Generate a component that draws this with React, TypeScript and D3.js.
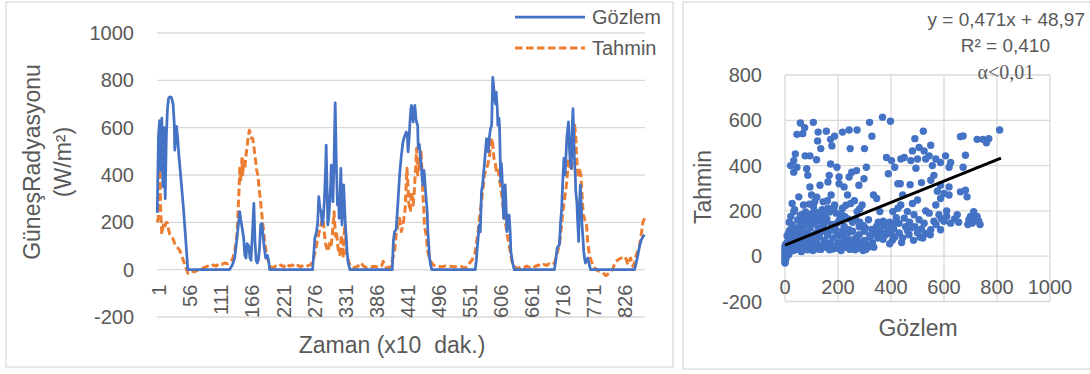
import React from 'react';
import * as d3 from 'd3';

// time series: [index (x10 min), value W/m2]
const gozlem: [number, number][] = [
  [1,240],[3,560],[5,630],[7,420],[9,640],[11,350],[13,600],[15,300],[17,560],[19,680],[21,725],[23,730],[26,728],[29,700],[31,620],[32,505],[34,560],[35,605],[37,560],[39,490],[43,380],[47,270],[51,140],[55,0],
  [129,0],[134,20],[138,49],[142,130],[145,200],[147,245],[149,210],[151,180],[154,133],[156,60],[158,49],[160,110],[163,100],[165,50],[167,40],[170,180],[172,280],[174,120],[176,40],[178,28],[180,40],[182,90],[184,190],[186,195],[188,150],[190,100],[193,49],[196,60],[198,40],[200,0],
  [276,0],[280,133],[283,161],[285,200],[287,309],[289,260],[291,245],[293,190],[295,220],[297,301],[299,430],[300,526],[302,300],[303,189],[305,230],[306,273],[308,360],[309,442],[311,330],[312,287],[313,380],[314,456],[315,600],[316,705],[318,450],[320,273],[322,300],[323,217],[325,350],[326,428],[327,300],[328,189],[329,250],[331,358],[332,300],[334,189],[336,120],[337,77],[339,30],[342,0],
  [417,0],[419,120],[421,160],[424,170],[427,280],[430,400],[433,480],[436,540],[439,565],[442,582],[444,560],[445,498],[447,560],[448,610],[450,680],[451,694],[453,650],[454,624],[456,680],[457,694],[459,640],[460,624],[462,610],[463,512],[465,530],[467,470],[469,420],[471,358],[473,420],[474,400],[476,330],[477,302],[479,240],[480,161],[482,90],[483,49],[485,20],[487,0],
  [564,0],[566,40],[567,77],[569,130],[571,189],[573,160],[575,330],[577,360],[580,442],[582,500],[584,554],[586,520],[587,498],[589,560],[591,596],[593,610],[595,813],[597,760],[598,722],[600,700],[601,750],[603,680],[604,610],[606,640],[607,600],[609,372],[610,450],[611,420],[613,300],[614,217],[616,300],[617,358],[619,240],[620,161],[622,200],[624,231],[626,150],[627,77],[630,30],[633,0],
  [704,0],[706,30],[709,91],[711,100],[713,105],[715,200],[717,259],[719,380],[721,470],[723,400],[725,500],[726,554],[728,600],[729,624],[731,500],[732,460],[734,428],[735,560],[737,680],[738,600],[739,498],[741,400],[742,330],[744,280],[745,217],[747,119],[748,250],[750,358],[752,250],[753,189],[755,120],[756,77],[758,40],[759,28],[761,40],[763,49],[766,20],[768,0],
  [846,0],[849,30],[852,63],[855,100],[858,126],[861,140],[864,147],
];

const tahmin: [number, number][] = [
  [1,200],[3,220],[5,470],[6,380],[7,250],[9,150],[11,180],[13,200],[15,185],[17,200],[19,195],[21,170],[23,150],[26,140],[29,130],[32,110],[35,100],[38,90],[41,80],[44,60],[47,40],[50,20],[53,0],[55,-15],[58,-12],[62,-5],[66,-10],[70,-5],[75,0],[80,5],[85,10],[90,15],[95,12],[100,20],[105,15],[110,25],[115,22],[120,28],[125,25],[130,30],[133,40],[135,50],[138,80],[141,120],[143,180],[144,245],[146,350],[147,428],[149,380],[150,440],[151,470],[152,400],[154,460],[156,430],[158,480],[160,520],[162,560],[164,589],[166,575],[168,555],[170,554],[172,520],[175,460],[177,420],[179,400],[182,330],[185,260],[188,190],[191,120],[194,70],[197,40],[200,20],[203,10],[206,8],
  [210,15],[215,10],[220,20],[225,12],[230,25],[235,15],[240,20],[245,10],[250,18],[255,12],[260,20],[265,15],[270,18],[274,25],
  [277,42],[280,70],[283,105],[286,140],[289,175],[292,200],[294,217],[296,180],[297,147],[299,110],[301,90],[303,77],[305,100],[307,120],[309,105],[311,150],[313,210],[314,245],[315,200],[317,140],[318,161],[320,120],[321,91],[323,70],[324,63],[326,120],[327,147],[329,100],[330,49],[332,150],[333,189],[335,120],[336,60],[339,40],[342,21],[345,10],[348,7],[352,10],[356,15],[360,20],[362,28],[366,15],[370,10],[374,14],[380,12],[386,14],[392,10],[398,14],[401,35],[404,20],[407,7],[411,10],[415,14],[418,50],[421,77],
  [424,150],[427,189],[430,217],[433,161],[435,180],[437,203],[440,259],[443,428],[445,350],[446,287],[448,260],[449,245],[451,330],[453,300],[454,273],[456,330],[457,372],[459,450],[460,512],[461,460],[462,400],[464,430],[465,470],[467,440],[468,498],[470,400],[471,330],[473,250],[474,189],[476,160],[477,147],[479,100],[480,77],[483,45],[485,35],[489,21],[493,16],[498,14],[505,12],[512,16],[520,14],[528,12],[535,16],[539,14],[545,7],[550,12],[554,28],[558,40],[563,63],[566,110],[569,161],[572,230],[575,287],[578,350],[580,400],[583,420],[586,442],[589,480],[592,540],[594,555],[597,470],[599,460],[601,420],[603,430],[605,414],[607,380],[610,330],[612,290],[614,245],[616,220],[618,189],[621,140],[624,105],[627,60],[630,21],[635,10],[640,5],[645,12],[650,8],
  [655,15],[660,10],[665,18],[670,12],[675,20],[680,15],[685,22],[690,18],[695,25],[700,20],[704,28],
  [707,49],[710,80],[713,105],[716,170],[719,245],[722,300],[724,330],[727,400],[729,470],[731,440],[733,420],[734,420],[736,460],[737,484],[739,560],[740,610],[742,560],[743,498],[745,420],[746,400],[748,410],[749,420],[751,400],[752,358],[754,280],[755,231],[757,220],[758,210],[760,200],[761,189],[763,119],[765,80],[766,63],[769,40],[772,21],[775,10],[778,0],[781,-5],[784,-7],[787,-10],[790,-14],[793,-20],[795,-25],[798,-21],[801,-15],[804,-10],[807,0],[810,20],[813,35],[817,42],[822,49],[826,52],[828,56],[831,45],[834,21],[837,40],[839,49],[841,30],[843,14],[846,30],[849,63],[852,80],[855,105],[858,150],[861,203],[864,217],
];

const nPoints = 864;
const xTickLabels = [1, 56, 111, 166, 221, 276, 331, 386, 441, 496, 551, 606, 661, 716, 771, 826];
const yTicksLeft = [-200, 0, 200, 400, 600, 800, 1000];

// scatter: [gözlem, tahmin]
const scatter: [number, number][] = [
  [58,588],[107,591],[74,567],[45,538],[67,541],[125,548],[156,552],[187,530],[172,516],[217,548],[242,557],[272,557],[319,591],[328,530],[368,614],[398,596],
  [123,509],[135,475],[177,487],[246,475],[300,475],[39,451],[76,443],[94,443],[119,426],[33,422],[21,400],[45,393],[33,371],[82,386],[86,357],
  [172,407],[196,393],[307,393],[270,378],[252,371],[167,357],[204,350],[242,350],[383,436],[402,422],[414,393],[390,364],
  [94,306],[132,313],[162,328],[204,320],[223,306],[279,313],[298,342],[236,270],[52,262],[27,233],[100,270],[174,270],[334,270],[426,320],
  [33,197],[70,226],[107,219],[144,240],[162,212],[187,226],[217,212],[248,233],[291,226],[346,255],[358,197],[407,197],
  [64,183],[100,168],[137,183],[193,190],[272,197],[315,161],[371,154],[414,146],[426,212],
  [27,139],[88,139],[125,125],[223,132],[242,117],[303,125],[346,132],[383,103],[15,106],[64,106],[162,106],[196,93],[272,84],[321,84],
  [100,68],[150,68],[223,68],[285,61],[358,84],[125,32],[180,32],[230,41],[285,38],[315,41],[39,41],[76,48],
  [522,552],[490,519],[810,557],[662,528],[672,531],[725,516],[747,516],[760,501],[769,519],[506,480],[481,465],[550,490],[525,465],[544,443],
  [450,436],[437,429],[500,429],[531,429],[569,429],[606,443],[681,446],[475,422],[494,388],[556,400],[587,414],[619,393],[672,393],[625,414],
  [562,357],[550,335],[435,320],[472,316],[515,325],[587,313],[619,306],[662,284],[681,291],[687,262],[575,287],[600,277],[619,270],[587,255],
  [444,270],[500,248],[481,233],[437,226],[569,226],[462,197],[487,183],[531,200],[544,190],[581,183],[610,200],[650,183],[712,197],[725,175],
  [694,161],[706,146],[731,154],[506,161],[525,146],[562,154],[600,154],[625,146],[450,168],[475,125],[500,103],[550,117],[587,117],[431,103],[462,113],[510,84],[444,81],
  [0,-30],[0,-20],[0,-10],[0,0],[0,10],[0,20],[0,30],[0,40],[2,-15],[3,5],[5,15],[5,25],[8,35],[10,45],[12,20],[15,30],[18,50],[20,60],[25,40],[28,70],
  [30,55],[35,80],[40,65],[45,90],[50,75],[55,60],[60,85],[65,50],[70,95],[75,70],[80,60],[85,100],[90,80],[95,55],[100,90],[110,75],[115,100],[120,60],
  [130,85],[140,110],[150,70],[160,95],[170,55],[180,80],[190,120],[200,60],[210,90],[220,50],[230,100],[240,70],[250,45],[260,75],[270,55],[280,95],
  [290,40],[300,70],[310,50],[320,90],[330,60],[340,100],[350,80],[360,110],[370,75],[380,95],[390,120],[400,100],
  [1,-25],[2,0],[4,-8],[6,8],[3,28],[1,48],[4,55],[9,12],[14,8],[20,22],[22,35],[32,25],[38,42],[48,30],[58,40],[62,20],[72,35],[85,28],[96,40],
  [105,25],[118,42],[135,30],[142,50],[155,40],[168,28],[185,45],[198,35],[212,25],[228,40],[245,30],[265,28],[275,35],[295,25],[305,30],[335,40],
  [12,70],[25,85],[42,110],[55,130],[68,120],[82,150],[95,125],[108,145],[128,155],[145,135],[158,165],[175,140],[205,160],[225,175],[255,150],[265,165],
  [8,90],[18,115],[30,130],[48,160],[115,195],[140,205],[185,215],[230,225],[262,245],[282,210],[160,245],[120,260],
  [16,150],[22,175],[36,205],[58,180],[78,195],[92,230],[112,240],[148,185],[168,195],[212,185],[238,165],[282,150],[296,135],[328,118],[352,150],
  [372,135],[395,150],[410,120],[420,170],[430,145],[455,130],[470,150],[490,130],[515,120],[530,100],[548,95],[570,140],[590,165],[610,175],[640,165],
  [655,150],[690,140],[700,175],[715,155],[736,140],[468,95],[485,70],[520,80],[405,70],[395,55],[415,85],[440,60],[300,110],[280,130],[255,110],
  [235,95],[215,110],[195,145],[175,115],[150,150],[135,165],[118,170],[104,190],[88,170],[72,155],[60,140],[46,120],[34,100],[26,95],[14,80],
];

const slope = 0.471;
const intercept = 48.97;
const trendMax = 815;
const scatterXTicks = [0, 200, 400, 600, 800, 1000];
const scatterYTicks = [-200, 0, 200, 400, 600, 800];

const BLUE = '#4472C4';
const ORANGE = '#ED7D31';
const GRID = '#D9D9D9';
const TEXT = '#595959';
const FONT = '"Liberation Sans", Arial, sans-serif';

const App: React.FC = () => {
  // left chart
  const left = 157, right = 645;
  const step = (right - left) / nPoints;
  const xPos = (i: number) => left + (i - 0.5) * step;
  const yScale = d3.scaleLinear().domain([-200, 1000]).range([317, 33]);
  const line = d3.line<[number, number]>().x(d => xPos(d[0])).y(d => yScale(d[1]));

  // right chart
  const sx = d3.scaleLinear().domain([0, 1000]).range([785, 1050]);
  const sy = d3.scaleLinear().domain([-200, 800]).range([301.5, 75]);

  return (
    <svg width={1090} height={374} style={{ position: 'absolute', left: 0, top: 0, background: '#fff' }} fontFamily={FONT}>
      {/* panel borders */}
      <rect x={6} y={2} width={667} height={365} fill="none" stroke={GRID} strokeWidth={1.2} />
      <rect x={683} y={2} width={420} height={367} fill="none" stroke={GRID} strokeWidth={1.2} />

      {/* left gridlines + y labels */}
      {yTicksLeft.map(v => (
        <g key={v}>
          <line x1={left} x2={right} y1={yScale(v)} y2={yScale(v)} stroke={GRID} strokeWidth={1.3} />
          <text x={134} y={yScale(v)} dy="0.35em" textAnchor="end" fontSize={20} fill={TEXT}>{v}</text>
        </g>
      ))}
      {xTickLabels.map(v => (
        <text key={v} transform={`translate(${xPos(v) + 2}, ${yScale(0) + 15}) rotate(-90)`} dy="0.35em"
          textAnchor="end" fontSize={20} fill={TEXT}>{v}</text>
      ))}

      <path d={line(tahmin) || ''} fill="none" stroke={ORANGE} strokeWidth={3} strokeDasharray="7.5 3.5" strokeLinejoin="round" />
      <path d={line(gozlem) || ''} fill="none" stroke={BLUE} strokeWidth={2.75} strokeLinejoin="round" />

      {/* axis titles */}
      <text transform="translate(32, 162) rotate(-90)" dy="0.35em" textAnchor="middle" fontSize={23} fill={TEXT}>GüneşRadyasyonu</text>
      <text transform="translate(63, 162) rotate(-90)" dy="0.35em" textAnchor="middle" fontSize={23} fill={TEXT}>(W/m²)</text>
      <text x={392} y={345} dy="0.35em" textAnchor="middle" fontSize={23} fill={TEXT} style={{ whiteSpace: 'pre' }}>Zaman (x10  dak.)</text>

      {/* legend */}
      <line x1={515} x2={585} y1={17} y2={17} stroke={BLUE} strokeWidth={2.75} />
      <text x={592} y={17} dy="0.35em" fontSize={20} fill={TEXT}>Gözlem</text>
      <line x1={515} x2={585} y1={48} y2={48} stroke={ORANGE} strokeWidth={3} strokeDasharray="7.5 3.5" />
      <text x={592} y={48} dy="0.35em" fontSize={20} fill={TEXT}>Tahmin</text>

      {/* right chart grid */}
      {scatterYTicks.map(v => (
        <g key={'y' + v}>
          <line x1={sx(0)} x2={sx(1000)} y1={sy(v)} y2={sy(v)} stroke={GRID} strokeWidth={1.3} />
          <text x={762} y={sy(v)} dy="0.35em" textAnchor="end" fontSize={20} fill={TEXT}>{v}</text>
        </g>
      ))}
      {scatterXTicks.map(v => (
        <g key={'x' + v}>
          <line x1={sx(v)} x2={sx(v)} y1={sy(800)} y2={sy(-200)} stroke={GRID} strokeWidth={1.3} />
          <text x={sx(v)} y={287} dy="0.35em" textAnchor="middle" fontSize={20} fill={TEXT}>{v}</text>
        </g>
      ))}

      {scatter.map((d, i) => (
        <circle key={i} cx={sx(d[0])} cy={sy(d[1])} r={3.7} fill={BLUE} />
      ))}
      <line x1={sx(0)} y1={sy(intercept)} x2={sx(trendMax)} y2={sy(slope * trendMax + intercept)} stroke="#000" strokeWidth={3} />

      <text transform="translate(703, 187) rotate(-90)" dy="0.35em" textAnchor="middle" fontSize={23} fill={TEXT}>Tahmin</text>
      <text x={918} y={328} dy="0.35em" textAnchor="middle" fontSize={23} fill={TEXT}>Gözlem</text>

      <text x={1085} y={19} dy="0.35em" textAnchor="end" fontSize={19} fill={TEXT}>y = 0,471x + 48,97</text>
      <text x={1050} y={45} dy="0.35em" textAnchor="end" fontSize={19} fill={TEXT}>R² = 0,410</text>
      <text x={1006} y={72} dy="0.35em" textAnchor="middle" fontSize={20} fill={TEXT} fontFamily='"Liberation Serif", "Times New Roman", serif'>α&lt;0,01</text>
    </svg>
  );
};

export default App;
